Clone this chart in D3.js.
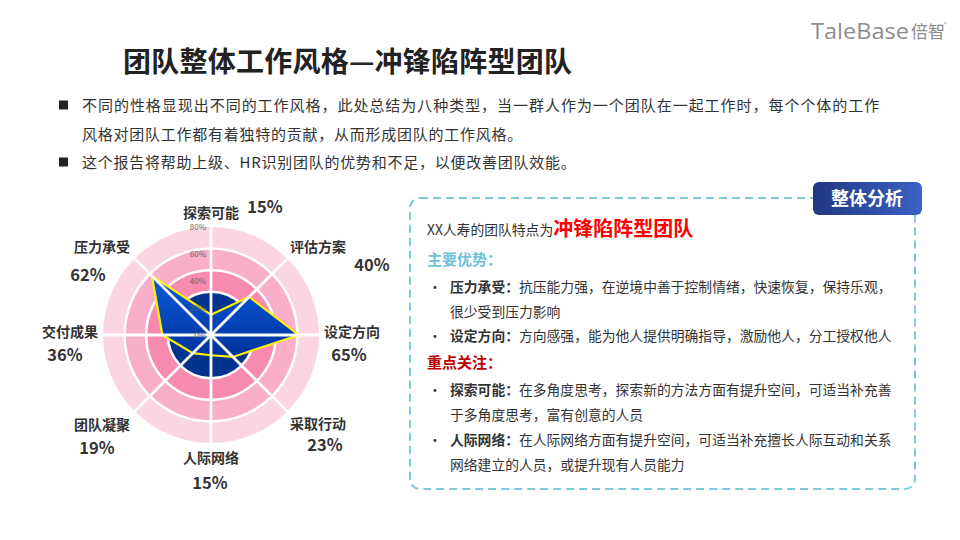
<!DOCTYPE html>
<html><head><meta charset="utf-8">
<script src="https://cdn.jsdelivr.net/npm/d3@7/dist/d3.min.js"></script>
<style>
html,body{margin:0;padding:0;background:#fff;}
svg{display:block;font-family:"Noto Sans CJK SC","Noto Sans",sans-serif;}
</style></head>
<body>
<svg id="c" width="960" height="540"></svg>
<script>
// ---- data ----
const categories = ['探索可能','评估方案','设定方向','采取行动','人际网络','团队凝聚','交付成果','压力承受'];
const values = [15, 40, 65, 23, 15, 19, 36, 62];
const tickValues = [0, 20, 40, 60, 80];
const tickLabels = ['0%','20%','40%','60%','80%'];
const title = '团队整体工作风格—冲锋陷阵型团队';
const introLines = [
  '不同的性格显现出不同的工作风格，此处总结为八种类型，当一群人作为一个团队在一起工作时，每个个体的工作',
  '风格对团队工作都有着独特的贡献，从而形成团队的工作风格。',
  '这个报告将帮助上级、HR识别团队的优势和不足，以便改善团队效能。'
];
const summaryPrefix = 'XX人寿的团队特点为';
const summaryType = '冲锋陷阵型团队';
const strengthsTitle = '主要优势：';
const strengths = [
  {k:'压力承受：', t:['抗压能力强，在逆境中善于控制情绪，快速恢复，保持乐观，','很少受到压力影响']},
  {k:'设定方向：', t:['方向感强，能为他人提供明确指导，激励他人，分工授权他人']}
];
const focusTitle = '重点关注：';
const focus = [
  {k:'探索可能：', t:['在多角度思考，探索新的方法方面有提升空间，可适当补充善','于多角度思考，富有创意的人员']},
  {k:'人际网络：', t:['在人际网络方面有提升空间，可适当补充擅长人际互动和关系','网络建立的人员，或提升现有人员能力']}
];

const svg = d3.select('#c');
const defs = svg.append('defs');

// ---- header ----
svg.append('text').attr('x',811).attr('y',39).attr('fill','#8c8c8c')
  .style('font-family','"Open Sans","Noto Sans",sans-serif').attr('font-size',21)
  .attr('textLength',98).attr('lengthAdjust','spacingAndGlyphs')
  .text('TaleBase');
svg.append('text').attr('x',911).attr('y',38).attr('fill','#8c8c8c').attr('font-size',17).text('倍智');
svg.append('text').attr('x',944).attr('y',26).attr('fill','#8c8c8c').attr('font-size',5).text('®');

svg.append('text').attr('x',123).attr('y',72).attr('fill','#222').attr('font-size',28)
  .attr('font-weight','bold').attr('textLength',449).attr('lengthAdjust','spacing').text(title);

const introY = [105,134,162];
introLines.forEach((l,i)=>{
  const t = svg.append('text').attr('x',82).attr('y',introY[i]+5.5).attr('fill','#333')
    .attr('font-size',15).attr('letter-spacing','0.75').text(l);
  if(i===0) t.attr('textLength',798).attr('lengthAdjust','spacing');
});
[0,2].forEach(i=>{
  svg.append('rect').attr('x',59).attr('y',introY[i]-4.5).attr('width',9).attr('height',9).attr('fill','#222');
});

// ---- radar ----
const cx = 211, cy = 335, R = 108;
const rScale = d3.scaleLinear().domain([0,80]).range([0,R]);
const angle = d3.scaleLinear().domain([0,categories.length]).range([0,2*Math.PI]);
const g = svg.append('g').attr('transform',`translate(${cx},${cy})`);

const ringColors = ['#fcd5e2','#f9afc9','#f78aaf','#00348f','#00348f'];
const ringFrac = [1,0.8,0.6,0.4,0.2];
ringFrac.forEach((f,i)=>{
  g.append('circle').attr('r',R*f).attr('fill',ringColors[i]);
});
[0.8,0.6,0.4].forEach(f=>{
  g.append('circle').attr('r',R*f).attr('fill','none').attr('stroke','#fff').attr('stroke-width',2.5);
});

const grad = defs.append('linearGradient').attr('id','pg').attr('x1',0).attr('y1',0).attr('x2',0).attr('y2',1);
grad.append('stop').attr('offset','0%').attr('stop-color','#0a5be0');
grad.append('stop').attr('offset','100%').attr('stop-color','#00329a');

const line = d3.lineRadial().angle((d,i)=>angle(i)).radius(d=>rScale(d)).curve(d3.curveLinearClosed);
g.append('path').datum(values).attr('d',line).attr('fill','url(#pg)')
  .attr('stroke','#fff200').attr('stroke-width',2.2).attr('stroke-linejoin','miter');

categories.forEach((c,i)=>{
  const a = angle(i);
  g.append('line').attr('x1',0).attr('y1',0)
    .attr('x2',R*Math.sin(a)).attr('y2',-R*Math.cos(a))
    .attr('stroke','#fff').attr('stroke-width',2.8);
});

tickValues.forEach((v,i)=>{
  g.append('text').attr('x',-5).attr('y',-rScale(v)+3).attr('text-anchor','end')
    .attr('font-size',8).attr('fill','#666').text(tickLabels[i]);
});

// label layout (offsets from centre)
const nameOff = [[0,-117],[107,-83],[141,2],[107,94],[0,128],[-109,95],[-141,2],[-109,-83]];
const valOff  = [[54,-122],[161,-64],[138,26],[114,116],[-1,154],[-114,119],[-146,26],[-123,-54]];
categories.forEach((c,i)=>{
  g.append('text').attr('x',nameOff[i][0]).attr('y',nameOff[i][1]).attr('text-anchor','middle')
    .attr('font-size',14).attr('font-weight','bold').attr('fill','#333').text(c);
  g.append('text').attr('x',valOff[i][0]).attr('y',valOff[i][1]).attr('text-anchor','middle')
    .attr('font-size',16.5).attr('font-weight','bold').attr('fill','#333').text(values[i]+'%');
});

// ---- analysis box ----
svg.append('rect').attr('x',410).attr('y',198).attr('width',505).attr('height',291).attr('rx',10)
  .attr('fill','none').attr('stroke','#7ec8db').attr('stroke-width',2).attr('stroke-dasharray','8,5');

const bg = defs.append('linearGradient').attr('id','bg').attr('x1',0).attr('y1',0).attr('x2',1).attr('y2',0);
bg.append('stop').attr('offset','0%').attr('stop-color','#213781');
bg.append('stop').attr('offset','100%').attr('stop-color','#3b62c4');
svg.append('rect').attr('x',813).attr('y',182).attr('width',109).attr('height',33).attr('rx',6).attr('fill','url(#bg)');
svg.append('text').attr('x',867).attr('y',205).attr('text-anchor','middle').attr('fill','#fff')
  .attr('font-size',18).attr('font-weight','bold').text('整体分析');

const fs = 13.8;
const s1 = svg.append('text').attr('x',427).attr('y',235).attr('font-size',fs).attr('fill','#333');
s1.append('tspan').text(summaryPrefix);
s1.append('tspan').attr('font-size',20).attr('font-weight','bold').attr('fill','#ff0000').attr('dy',1).text(summaryType);

svg.append('text').attr('x',427).attr('y',265).attr('font-size',15).attr('font-weight','bold')
  .attr('fill','#6ec1d6').text(strengthsTitle);

function bulletBlock(items, ys){
  let k=0;
  items.forEach(it=>{
    svg.append('text').attr('x',428).attr('y',ys[k]).attr('font-size',fs).attr('fill','#333').text('•');
    it.t.forEach((ln,j)=>{
      const t = svg.append('text').attr('x',450).attr('y',ys[k]).attr('font-size',fs).attr('fill','#333');
      if(j===0) t.append('tspan').attr('font-weight','bold').text(it.k);
      t.append('tspan').text(ln);
      k++;
    });
  });
}
bulletBlock(strengths,[292,317,341]);
svg.append('text').attr('x',427).attr('y',368).attr('font-size',15).attr('font-weight','bold')
  .attr('fill','#c00000').text(focusTitle);
bulletBlock(focus,[395,420,445,470]);
</script>
</body></html>
